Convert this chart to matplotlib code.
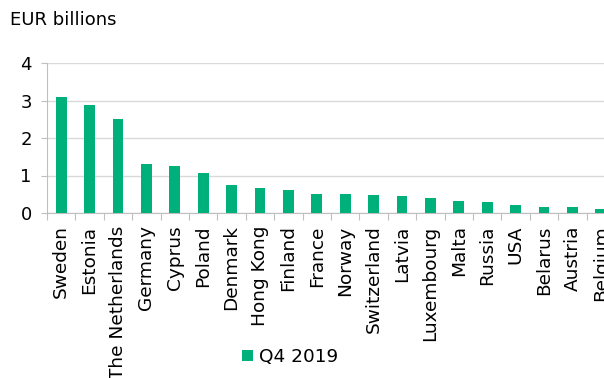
import matplotlib.pyplot as plt
import numpy as np

countries = ["Sweden", "Estonia", "The Netherlands", "Germany", "Cyprus", "Poland",
             "Denmark", "Hong Kong", "Finland", "France", "Norway", "Switzerland",
             "Latvia", "Luxembourg", "Malta", "Russia", "USA", "Belarus", "Austria",
             "Belgium"]
q4_2019 = [3.09, 2.88, 2.51, 1.31, 1.25, 1.07, 0.75, 0.67, 0.62, 0.51, 0.51, 0.47,
           0.45, 0.40, 0.32, 0.30, 0.21, 0.17, 0.17, 0.11]

green = "#00b07b"
grey = "#bfbfbf"

fig = plt.figure(figsize=(6.04, 3.78), dpi=100)
ax = fig.add_axes([47 / 604, 1 - 213 / 378, 568 / 604, 150 / 378])

x = np.arange(len(countries))
ax.bar(x, q4_2019, width=0.38, color=green, label="Q4 2019", zorder=3)

ax.set_xlim(-0.5, len(countries) - 0.5)
ax.set_ylim(0, 4)
ax.set_yticks([0, 1, 2, 3, 4])
ax.yaxis.grid(True, color="#d9d9d9", linewidth=1, zorder=0)
ax.tick_params(axis="y", length=4, color=grey, labelsize=13, pad=7)

# ticks between categories, labels at centres
ax.set_xticks(np.arange(len(countries) + 1) - 0.5)
ax.set_xticklabels([])
ax.set_xticks(x, minor=True)
ax.set_xticklabels(countries, minor=True, rotation=90, fontsize=13.3)
ax.tick_params(axis="x", which="major", length=5, color=grey)
ax.tick_params(axis="x", which="minor", length=0, pad=9)

for s in ["top", "right"]:
    ax.spines[s].set_visible(False)
ax.spines["left"].set_color(grey)
ax.spines["bottom"].set_color(grey)

fig.text(10 / 604, 1 - 20 / 378, "EUR billions", fontsize=13, va="center")

fig.legend(loc="center", bbox_to_anchor=(290 / 604, 1 - 357 / 378), frameon=False,
           fontsize=13.3, handlelength=0.6, handleheight=0.6, handletextpad=0.3)

fig.savefig("out.png", dpi=100)
